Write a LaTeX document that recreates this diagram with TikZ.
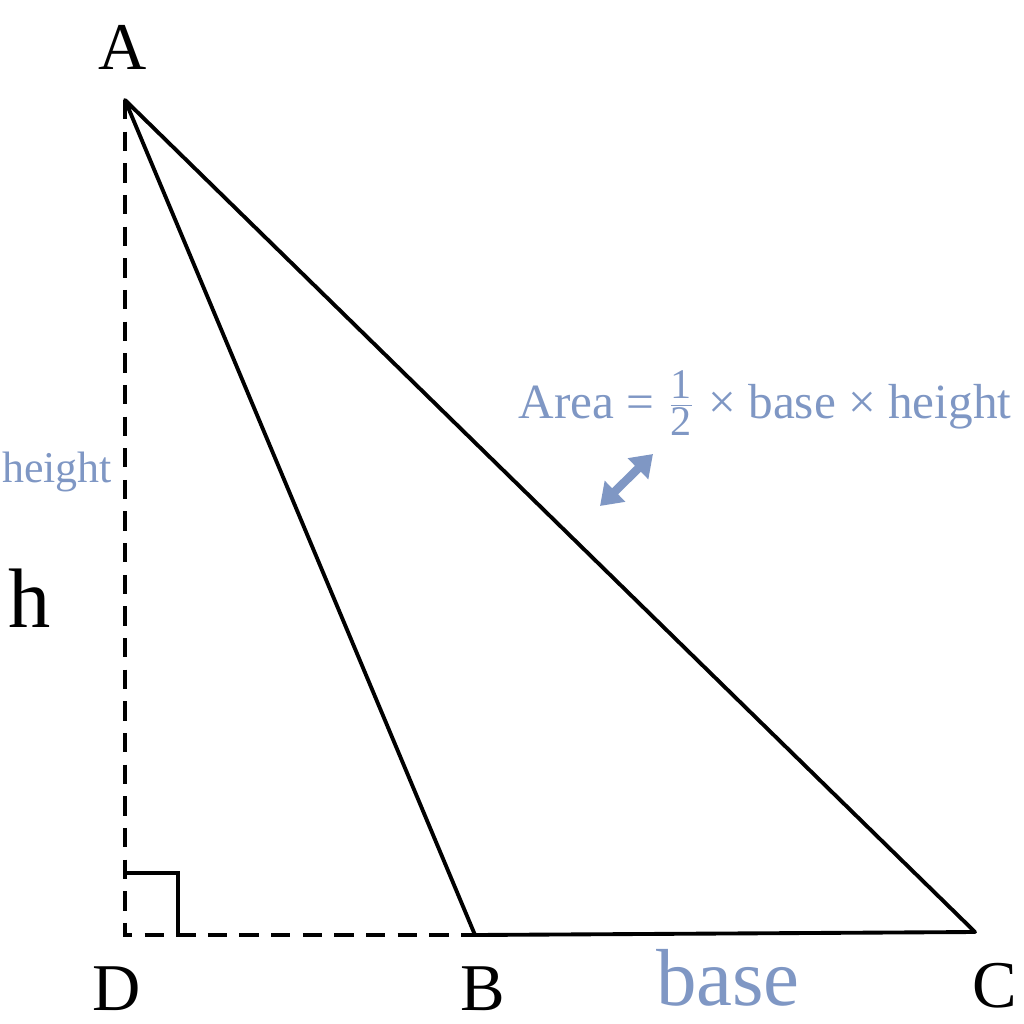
\documentclass[tikz,border=0pt]{standalone}
\usepackage{fontspec}
\setmainfont{Liberation Serif}
\usetikzlibrary{arrows.meta}
\definecolor{notecol}{HTML}{7F97C4}

\begin{document}
\begin{tikzpicture}[x=0.01cm,y=-0.01cm,
  vlabel/.style={inner sep=0pt,font=\fontsize{19}{19}\selectfont},
  note/.style={inner sep=0pt,text=notecol},
  side/.style={line width=1.1pt,line join=round},
  aux/.style={line width=1pt,dash pattern=on 5.5pt off 3.5pt}]
  \useasboundingbox (0,0) rectangle (1024,1024);
  \coordinate (A) at (125,100);
  \coordinate (B) at (475,935);
  \coordinate (C) at (975,932);
  \coordinate (D) at (125,935);
  \coordinate (R) at (178,873);
  \node[vlabel] (lA) at (123,47) {A};
  \node[vlabel] (lB) at (483,989) {B};
  \node[vlabel] (lC) at (995,986) {C};
  \node[vlabel] (lD) at (117,989) {D};
  \node[inner sep=0pt,font=\fontsize{24}{24}\selectfont] (h) at (30,598) {h};
  \node[note,font=\fontsize{12.5}{12.5}\selectfont] (height) at (57,472) {height};
  \node[note,font=\fontsize{23}{23}\selectfont] (base) at (728,978) {base};
  \node[note,font=\fontsize{14}{14}\selectfont] (area) at (765,403)
    {Area = $\frac{\mbox{\fontsize{12}{12}\selectfont 1}}{\mbox{\fontsize{12}{12}\selectfont 2}}$ × base × height};
  \coordinate (p1) at (600,506);
  \coordinate (p2) at (653,454);
  \draw[side] (A) -- (B) -- (C) -- cycle;
  \draw[aux] (A) -- (D) -- (B);
  \draw[line width=1pt] (D |- R) -- (R) -- (R |- D);
  \draw[notecol,line width=2.4pt,{Triangle[length=6pt,width=8pt]}-{Triangle[length=6pt,width=8pt]}] (p1) -- (p2);
\end{tikzpicture}
\end{document}
